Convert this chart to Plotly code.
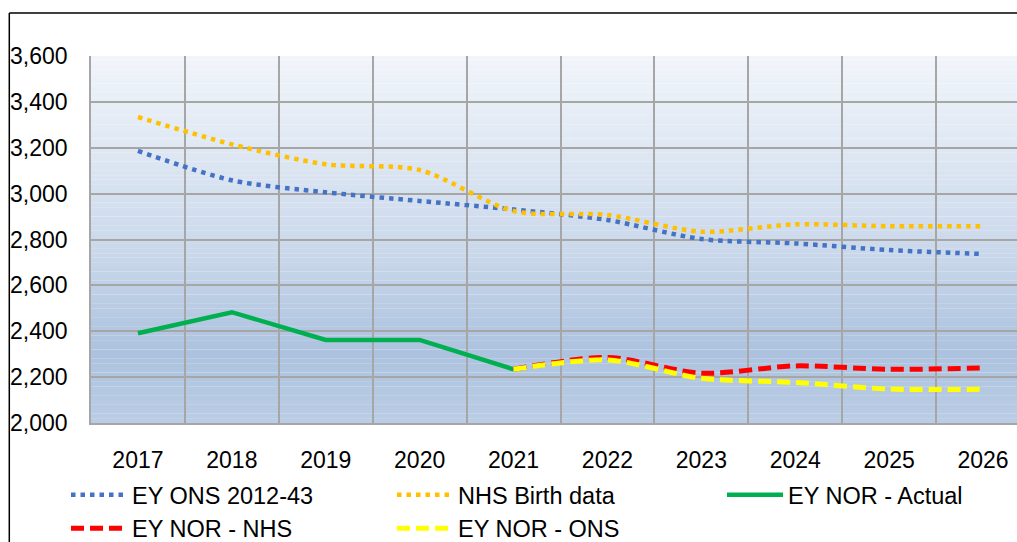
import plotly.graph_objects as go

years = ["2017", "2018", "2019", "2020", "2021", "2022", "2023", "2024", "2025", "2026"]
ey_ons = [3186, 3058, 3006, 2968, 2931, 2885, 2802, 2783, 2754, 2737]
nhs_birth = [3334, 3215, 3128, 3103, 2924, 2907, 2834, 2866, 2858, 2858]
nor_actual = [2391, 2483, 2362, 2362, 2234, None, None, None, None, None]
nor_nhs = [None, None, None, None, 2234, 2286, 2217, 2249, 2234, 2240]
nor_ons = [None, None, None, None, 2234, 2275, 2195, 2177, 2148, 2147]

y_min, y_max, y_step = 2000, 3600, 200

FONT = "Liberation Sans, Arial, sans-serif"
FS = 23
LFS = 23.5

fig = go.Figure()
fig.add_trace(go.Scatter(x=years, y=ey_ons, name="EY ONS 2012-43", mode="lines",
                         line=dict(color="#4472C4", width=4.5, dash="4.5px,5px", shape="spline", smoothing=0.8),
                         legend="legend"))
fig.add_trace(go.Scatter(x=years, y=nhs_birth, name="NHS Birth data", mode="lines",
                         line=dict(color="#FFC000", width=4.5, dash="4.5px,5px", shape="spline", smoothing=0.8),
                         legend="legend"))
fig.add_trace(go.Scatter(x=years, y=nor_actual, name="EY NOR - Actual", mode="lines",
                         line=dict(color="#00B050", width=4.5), legend="legend3"))
fig.add_trace(go.Scatter(x=years, y=nor_nhs, name="EY NOR - NHS", mode="lines",
                         line=dict(color="#FF0000", width=5, dash="13px,6px", shape="spline", smoothing=0.8),
                         legend="legend2"))
fig.add_trace(go.Scatter(x=years, y=nor_ons, name="EY NOR - ONS", mode="lines",
                         line=dict(color="#FFFF00", width=5, dash="13px,6px", shape="spline", smoothing=0.8),
                         legend="legend2"))

# gradient background built from stacked bands
stops = [(3600, (241, 245, 250)), (2800, (205, 218, 236)), (2300, (172, 194, 222)), (2000, (187, 205, 229))]

def col_at(v):
    for (v0, c0), (v1, c1) in zip(stops[:-1], stops[1:]):
        if v1 <= v <= v0:
            t = (v0 - v) / (v0 - v1)
            return "rgb(%d,%d,%d)" % tuple(round(a + (b - a) * t) for a, b in zip(c0, c1))
    return "rgb(%d,%d,%d)" % stops[-1][1]

shapes = []
n = 80
band = (y_max - y_min) / n
for i in range(n):
    y0 = y_min + i * band
    shapes.append(dict(type="rect", xref="paper", yref="y", x0=0, x1=1, y0=y0, y1=y0 + band + 0.5,
                       fillcolor=col_at(y0 + band / 2), line=dict(width=0), layer="below"))

# outer frame (chart border)
W, H = 1017, 542
ml, mr, mt, mb = 91, 0, 56, 119
pw, ph = W - ml - mr, H - mt - mb
def px(x):
    return (x - ml) / pw
def py(y):
    return (H - mb - y) / ph
shapes.append(dict(type="line", xref="paper", yref="paper", x0=px(9.3), x1=px(9.3), y0=py(13), y1=py(560),
                   line=dict(color="black", width=1.5), layer="above"))
shapes.append(dict(type="line", xref="paper", yref="paper", x0=px(9.3), x1=px(1030), y0=py(13), y1=py(13),
                   line=dict(color="black", width=1.5), layer="above"))

leg_common = dict(orientation="h", xanchor="left", yanchor="middle",
                  itemwidth=56, entrywidth=255, entrywidthmode="pixels", bgcolor="rgba(0,0,0,0)",
                  font=dict(family=FONT, size=LFS), tracegroupgap=0, itemclick=False)

fig.update_layout(
    width=W, height=H,
    margin=dict(l=ml, r=mr, t=mt, b=mb, pad=0, autoexpand=False),
    paper_bgcolor="white", plot_bgcolor="rgba(0,0,0,0)",
    font=dict(family=FONT, size=FS, color="black"),
    shapes=shapes,
    showlegend=True,
    legend=dict(x=px(66), y=py(495), **leg_common),
    legend3=dict(x=px(722), y=py(495), **{**leg_common, "entrywidth": 0}),
    legend2=dict(x=px(66), y=py(528.5), **leg_common),
)

fig.update_xaxes(type="category", range=[-0.5, 9.5 - 13 / 93.9], tickson="boundaries",
                 showgrid=True, gridcolor="#A6A6A6", gridwidth=1.5,
                 showline=True, linecolor="#A6A6A6", linewidth=1.5,
                 ticks="", ticklabelstandoff=16, tickfont=dict(size=FS), zeroline=False, fixedrange=True,
                 automargin=False)
fig.update_yaxes(range=[y_min, y_max], dtick=y_step, tick0=y_min, tickformat=",",
                 showgrid=True, gridcolor="#A6A6A6", gridwidth=1.5,
                 showline=True, linecolor="#A6A6A6", linewidth=1.5,
                 ticks="", ticklabelstandoff=17, tickfont=dict(size=FS), zeroline=False, fixedrange=True,
                 automargin=False)

fig.write_html("out.html", config={"displayModeBar": False},
               post_script="document.body.style.margin='0';document.body.style.overflow='hidden';")
